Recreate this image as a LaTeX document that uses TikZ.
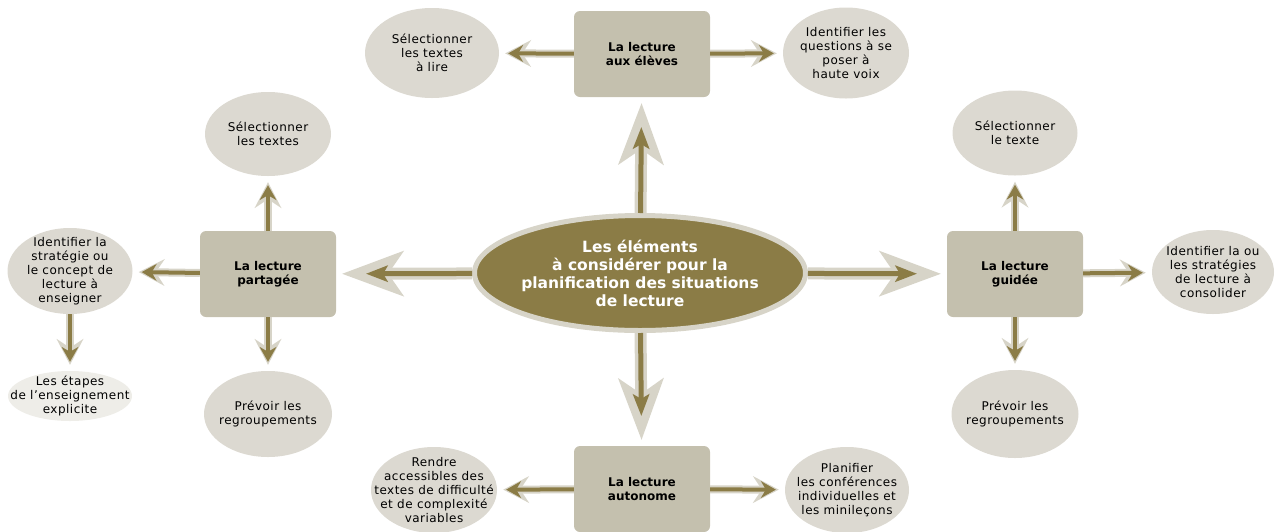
\documentclass[tikz,border=0pt]{standalone}
\usepackage{fontspec}
\setmainfont{DejaVu Sans}
\newfontfamily\bullefont{DejaVu Sans}[LetterSpace=4]
\usetikzlibrary{arrows.meta, shapes.geometric}

\definecolor{olivebrun}{RGB}{139,124,70}
\definecolor{halogris}{RGB}{215,212,200}
\definecolor{boitegris}{RGB}{196,192,174}
\definecolor{bullegris}{RGB}{220,217,209}
\definecolor{bullepale}{RGB}{238,237,232}

\begin{document}
\begin{tikzpicture}[
    x=1pt, y=-1pt,
    box/.style={rectangle, rounded corners=6pt, fill=boitegris, minimum width=136pt, minimum height=86pt, align=center, font=\fontsize{12}{14}\selectfont\bfseries},
    bubble/.style={ellipse, fill=bullegris, inner sep=-20pt, minimum width=126pt, minimum height=88pt, align=center, font=\bullefont\fontsize{12}{14}\selectfont},
    centre/.style={ellipse, fill=olivebrun, draw=halogris, line width=5pt, inner sep=-20pt, minimum width=331pt, minimum height=115pt, align=center, text=white, font=\fontsize{15.5}{18}\selectfont\bfseries},
    bigarrow/.style={draw=olivebrun, line width=5pt, shorten >=30pt, -{Stealth[length=22pt,width=17pt,inset=5pt,line width=0pt]},
        preaction={draw=halogris, line width=12pt, shorten >=6pt, -{Stealth[length=62pt,width=46pt,inset=16pt,line width=0pt]}}},
    smallarrow/.style={draw=olivebrun, line width=4pt, shorten >=9pt, -{Stealth[length=15pt,width=17pt,inset=5pt,line width=0pt]},
        preaction={draw=halogris, line width=8pt, shorten >=6pt, -{Stealth[length=26pt,width=27pt,inset=9pt,line width=0pt]}}}
]
\useasboundingbox (0,0) rectangle (1277,531);

% centre
\node[centre] (elements) at (640,273) {Les éléments\\à considérer pour la\\planification des situations\\de lecture};

% the four kinds of reading
\node[box] (eleves) at (642,54) {La lecture\\aux élèves};
\node[box] (partagee) at (268,274) {La lecture\\partagée};
\node[box] (guidee) at (1015,274) {La lecture\\guidée};
\node[box] (autonome) at (642,489) {La lecture\\autonome};

% bubbles round la lecture aux eleves
\node[bubble, minimum width=134pt, minimum height=90pt] (lire) at (432,53) {Sélectionner\\les textes\\à lire};
\node[bubble, minimum height=91pt] (questions) at (846,53) {Identifier les\\questions à se\\poser à\\haute voix};

% bubbles round la lecture partagee
\node[bubble, minimum height=84pt] (textesP) at (268,134) {Sélectionner\\les textes};
\node[bubble, minimum width=125pt, minimum height=86pt] (strategie) at (70,271) {Identifier la\\stratégie ou\\le concept de\\lecture à\\enseigner};
\node[bubble, fill=bullepale, minimum width=124pt, minimum height=50pt] (etapes) at (70,396) {Les étapes\\de l’enseignement\\explicite};
\node[bubble, minimum width=128pt, minimum height=86pt] (regroupP) at (268,414) {Prévoir les\\regroupements};

% bubbles round la lecture guidee
\node[bubble, minimum width=125pt, minimum height=85pt] (texteG) at (1015,133) {Sélectionner\\le texte};
\node[bubble, minimum width=122pt, minimum height=84pt] (consolider) at (1213,272) {Identifier la ou\\les stratégies\\de lecture à\\consolider};
\node[bubble, minimum width=127pt] (regroupG) at (1015,414) {Prévoir les\\regroupements};

% bubbles round la lecture autonome
\node[bubble, minimum width=126pt, minimum height=86pt] (rendre) at (434,490) {Rendre\\accessibles des\\textes de difficulté\\et de complexité\\variables};
\node[bubble, minimum width=124pt, minimum height=86pt] (planifier) at (847,490) {Planifier\\les conférences\\individuelles et\\les minileçons};

% big arrows from the centre
\draw[bigarrow] (elements) -- (eleves);
\draw[bigarrow] (elements) -- (partagee);
\draw[bigarrow] (elements) -- (guidee);
\draw[bigarrow] (elements) -- (autonome);

% small arrows
\draw[smallarrow] (eleves) -- (lire);
\draw[smallarrow] (eleves) -- (questions);
\draw[smallarrow] (partagee) -- (textesP);
\draw[smallarrow] (partagee) -- (strategie);
\draw[smallarrow] (partagee) -- (regroupP);
\draw[smallarrow] (strategie) -- (etapes);
\draw[smallarrow] (guidee) -- (texteG);
\draw[smallarrow] (guidee) -- (consolider);
\draw[smallarrow] (guidee) -- (regroupG);
\draw[smallarrow] (autonome) -- (rendre);
\draw[smallarrow] (autonome) -- (planifier);

\end{tikzpicture}
\end{document}
